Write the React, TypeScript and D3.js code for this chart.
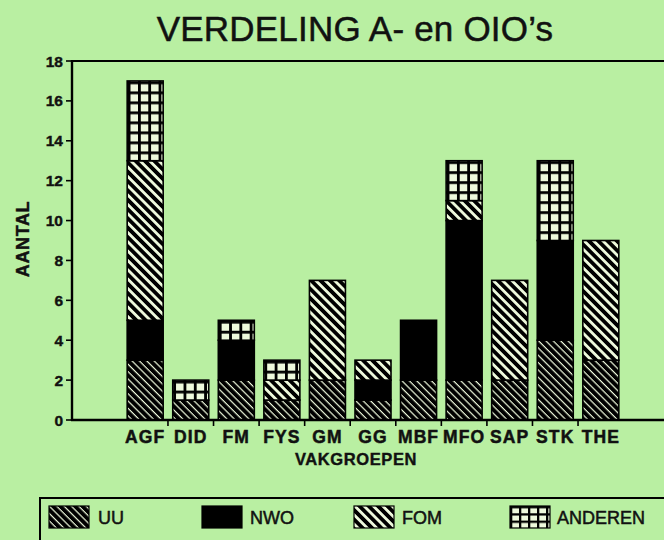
import React from "react";
import * as d3 from "d3";

const categories = ["AGF", "DID", "FM", "FYS", "GM", "GG", "MBF", "MFO", "SAP", "STK", "THE"];
const uu = [3, 1, 2, 1, 2, 1, 2, 2, 2, 4, 3];
const nwo = [2, 0, 2, 0, 0, 1, 3, 8, 0, 5, 0];
const fom = [8, 0, 0, 1, 5, 1, 0, 1, 5, 0, 6];
const anderen = [4, 1, 1, 1, 0, 0, 0, 2, 0, 4, 0];
const seriesNames = ["UU", "NWO", "FOM", "ANDEREN"];
const yTicks = [0, 2, 4, 6, 8, 10, 12, 14, 16, 18];

const W = 664;
const H = 540;
const BG = "#b9efa2";
const LIGHT = "#eef9dc";
const FONT = "'Liberation Sans', Arial, Helvetica, sans-serif";

const fills = ["url(#pUU)", "#000", "url(#pFOM)", "grid"];

export default function App() {
  const x = d3.scaleBand<string>().domain(categories).range([122.4, 623.6]).paddingInner(0.21).paddingOuter(0.105);
  const y = d3.scaleLinear().domain([0, 18]).range([420, 61]);

  const table = categories.map((c, i) => ({ cat: c, UU: uu[i], NWO: nwo[i], FOM: fom[i], ANDEREN: anderen[i] }));
  const stack = d3.stack<any>().keys(seriesNames)(table);

  const step = x.step();
  const boundaries = categories.slice(1).map((c) => (x(c) as number) - (step - x.bandwidth()) / 2);

  const gridPatterns: { id: string; px: number; py: number }[] = [];

  const segs: React.ReactNode[] = [];
  stack.forEach((layer, si) => {
    layer.forEach((d, ci) => {
      if (d[1] - d[0] <= 0) return;
      const bx = x(categories[ci]) as number;
      const by = y(d[1]);
      const bh = y(d[0]) - y(d[1]);
      let fill = fills[si];
      if (fill === "grid") {
        const id = `grid${ci}`;
        gridPatterns.push({ id, px: bx + 0.5, py: by + 0.5 });
        fill = `url(#${id})`;
      }
      segs.push(
        <rect key={`${si}-${ci}`} x={bx} y={by} width={x.bandwidth()} height={bh} fill={fill} stroke="#000" strokeWidth={1.6} />
      );
    });
  });

  const legendItems = [
    { name: "UU", sx: 49, tx: 98, fill: "url(#pUU)" },
    { name: "NWO", sx: 202, tx: 250, fill: "#000" },
    { name: "FOM", sx: 354, tx: 402, fill: "url(#pFOM)" },
    { name: "ANDEREN", sx: 510, tx: 557, fill: "url(#gridLegend)" },
  ];
  const legTop = 498;
  const swY = 506;
  const swH = 22;

  return (
    <div style={{ position: "fixed", left: 0, top: 0 }}>
      <svg width={W} height={H} style={{ display: "block" }}>
        <defs>
          <pattern id="pUU" patternUnits="userSpaceOnUse" width={6} height={5.2} patternTransform="rotate(45)">
            <rect x={0} y={0} width={6} height={5.2} fill="#000" />
            <rect x={0} y={0} width={6} height={1.2} fill={LIGHT} />
          </pattern>
          <pattern id="pFOM" patternUnits="userSpaceOnUse" width={6} height={6.6} patternTransform="rotate(45)">
            <rect x={0} y={0} width={6} height={6.6} fill="#000" />
            <rect x={0} y={0} width={6} height={2.8} fill={LIGHT} />
          </pattern>
          {gridPatterns.map((g) => (
            <pattern key={g.id} id={g.id} patternUnits="userSpaceOnUse" x={g.px} y={g.py} width={10.3} height={10}>
              <rect x={0} y={0} width={10.3} height={10} fill="#000" />
              <rect x={2.8} y={2.8} width={7.5} height={7.2} fill={LIGHT} />
            </pattern>
          ))}
          <pattern id="gridLegend" patternUnits="userSpaceOnUse" x={510} y={swY} width={9} height={7.3}>
            <rect x={0} y={0} width={9} height={7.3} fill="#000" />
            <rect x={2.3} y={2.3} width={6.7} height={5} fill={LIGHT} />
          </pattern>
        </defs>
        <rect x={0} y={0} width={W} height={H} fill={BG} />

        <text x={355} y={41} textAnchor="middle" fontFamily={FONT} fontSize={35} fill="#111" stroke="#111" strokeWidth={0.5} letterSpacing={0.2}>
          VERDELING A- en OIO’s
        </text>

        {segs}

        {/* axes */}
        <line x1={72} y1={61} x2={W + 2} y2={61} stroke="#000" strokeWidth={2.2} />
        <line x1={72} y1={60} x2={72} y2={421} stroke="#000" strokeWidth={2.4} />
        <line x1={71} y1={420} x2={W + 2} y2={420} stroke="#000" strokeWidth={2.4} />

        {yTicks.map((t) => (
          <g key={t}>
            <line x1={66} x2={72} y1={y(t)} y2={y(t)} stroke="#000" strokeWidth={1.6} />
            <text x={63} y={y(t) + 5.5} textAnchor="end" fontFamily={FONT} fontWeight="bold" fontSize={15.5} fill="#111" stroke="#111" strokeWidth={0.4}>
              {t}
            </text>
          </g>
        ))}
        {boundaries.map((b, i) => (
          <line key={i} x1={b} x2={b} y1={420} y2={426} stroke="#000" strokeWidth={1.6} />
        ))}
        {categories.map((c) => (
          <text key={c} x={(x(c) as number) + x.bandwidth() / 2} y={443} textAnchor="middle" fontFamily={FONT} fontWeight="bold" fontSize={17.5} letterSpacing={1.1} fill="#111" stroke="#111" strokeWidth={0.5}>
            {c}
          </text>
        ))}
        <text x={356} y={465} textAnchor="middle" fontFamily={FONT} fontWeight="bold" fontSize={16.5} letterSpacing={0.6} fill="#111" stroke="#111" strokeWidth={0.4}>
          VAKGROEPEN
        </text>
        <text transform="translate(29,239) rotate(-90)" textAnchor="middle" fontFamily={FONT} fontWeight="bold" fontSize={18} letterSpacing={0.6} fill="#111" stroke="#111" strokeWidth={0.4}>
          AANTAL
        </text>

        {/* legend */}
        <rect x={40} y={legTop} width={W + 10 - 40} height={H - legTop + 20} fill="none" stroke="#000" strokeWidth={2} />
        {legendItems.map((it) => (
          <g key={it.name}>
            <rect x={it.sx} y={swY} width={40} height={swH} fill={it.fill} stroke="#000" strokeWidth={1.2} />
            <text x={it.tx} y={swY + 18} fontFamily={FONT} fontSize={18} fill="#111" stroke="#111" strokeWidth={0.5}>
              {it.name}
            </text>
          </g>
        ))}
      </svg>
    </div>
  );
}
